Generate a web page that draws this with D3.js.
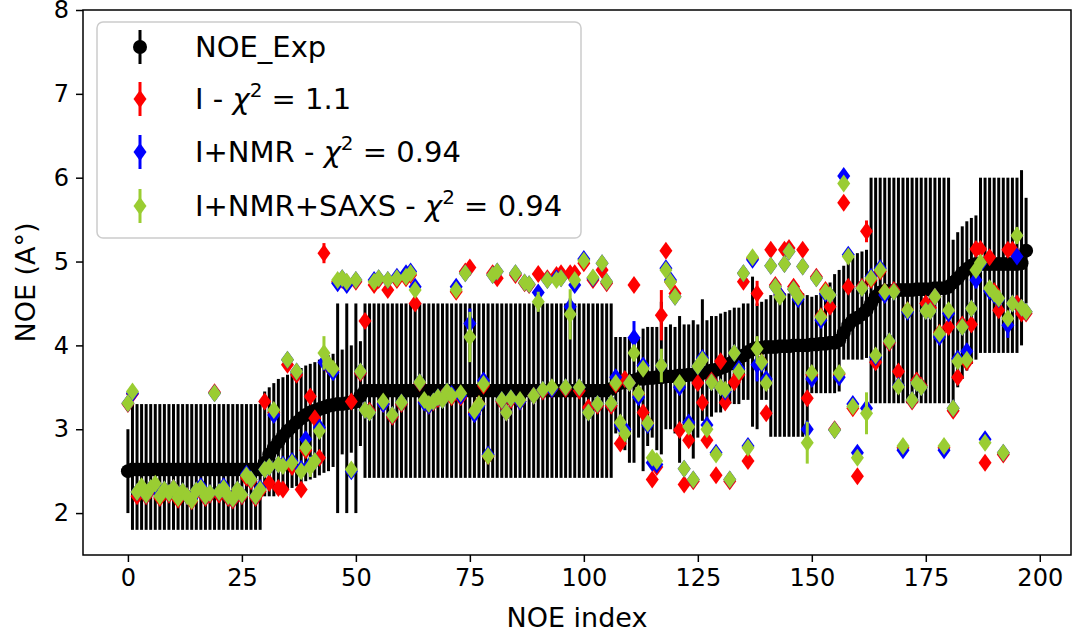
<!DOCTYPE html>
<html>
<head>
<meta charset="utf-8">
<script src="https://cdn.jsdelivr.net/npm/d3@7"></script>
<style>
  body { margin: 0; background: #fff; }
  text { font-family: "DejaVu Sans", sans-serif; }
</style>
</head>
<body>
<div id="chart"></div>
<script>
// experimental NOE distances, with lower / upper bound of the error bar
const noeExp = [
  2.50, 2.52, 2.52, 2.52, 2.52, 2.52, 2.52, 2.52, 2.52, 2.52,
  2.52, 2.52, 2.52, 2.52, 2.52, 2.52, 2.52, 2.52, 2.52, 2.52,
  2.52, 2.52, 2.52, 2.52, 2.52, 2.52, 2.52, 2.52, 2.52, 2.52,
  2.60, 2.70, 2.78, 2.85, 2.92, 2.98, 3.03, 3.08, 3.13, 3.17,
  3.20, 3.22, 3.24, 3.26, 3.28, 3.29, 3.30, 3.30, 3.31, 3.32,
  3.33, 3.40, 3.46, 3.46, 3.46, 3.46, 3.46, 3.46, 3.46, 3.46,
  3.46, 3.46, 3.46, 3.46, 3.46, 3.46, 3.46, 3.46, 3.46, 3.46,
  3.46, 3.46, 3.46, 3.46, 3.46, 3.46, 3.46, 3.46, 3.46, 3.46,
  3.46, 3.46, 3.46, 3.46, 3.46, 3.46, 3.46, 3.46, 3.46, 3.46,
  3.46, 3.46, 3.46, 3.46, 3.46, 3.46, 3.46, 3.46, 3.46, 3.46,
  3.46, 3.46, 3.46, 3.46, 3.46, 3.46, 3.48, 3.52, 3.55, 3.56,
  3.57, 3.58, 3.60, 3.60, 3.61, 3.61, 3.62, 3.62, 3.63, 3.63,
  3.63, 3.64, 3.64, 3.65, 3.65, 3.66, 3.67, 3.68, 3.70, 3.71,
  3.73, 3.75, 3.78, 3.82, 3.86, 3.88, 3.92, 3.95, 3.97, 3.97,
  3.98, 3.98, 3.98, 3.99, 3.99, 3.99, 4.00, 4.00, 4.00, 4.00,
  4.01, 4.01, 4.02, 4.02, 4.03, 4.03, 4.06, 4.15, 4.24, 4.30,
  4.33, 4.37, 4.42, 4.50, 4.58, 4.63, 4.65, 4.65, 4.65, 4.66,
  4.66, 4.66, 4.66, 4.67, 4.67, 4.67, 4.67, 4.68, 4.68, 4.68,
  4.70, 4.75, 4.80, 4.86, 4.91, 4.95, 4.97, 4.97, 4.97, 4.97,
  4.97, 4.97, 4.97, 4.97, 4.97, 4.97, 4.98, 5.13
];
const noeLow = [
  2.00, 1.80, 1.80, 1.80, 1.80, 1.80, 1.80, 1.80, 1.80, 1.80,
  1.80, 1.80, 1.80, 1.80, 1.80, 1.80, 1.80, 1.80, 1.80, 1.80,
  1.80, 1.80, 1.80, 1.80, 1.80, 1.80, 1.80, 1.80, 1.80, 1.80,
  2.20, 2.20, 2.20, 2.22, 2.25, 2.28, 2.30, 2.32, 2.35, 2.38,
  2.40, 2.42, 2.45, 2.48, 2.50, 2.55, 2.00, 2.70, 2.00, 2.72,
  2.00, 2.80, 2.42, 2.42, 2.42, 2.42, 2.42, 2.42, 2.42, 2.42,
  2.42, 2.42, 2.42, 2.42, 2.42, 2.42, 2.42, 2.42, 2.42, 2.42,
  2.42, 2.42, 2.42, 2.42, 2.42, 2.42, 2.42, 2.42, 2.42, 2.42,
  2.42, 2.42, 2.42, 2.42, 2.42, 2.42, 2.42, 2.42, 2.42, 2.42,
  2.42, 2.42, 2.42, 2.42, 2.42, 2.42, 2.42, 2.42, 2.42, 2.42,
  2.42, 2.42, 2.42, 2.42, 2.42, 2.42, 2.42, 2.95, 2.90, 2.75,
  2.60, 2.60, 2.90, 2.50, 2.80, 2.90, 2.75, 2.70, 3.00, 3.00,
  2.95, 2.60, 3.05, 3.10, 2.65, 2.90, 3.10, 3.00, 3.15, 3.20,
  3.20, 3.25, 3.30, 3.30, 3.30, 3.35, 3.35, 3.03, 3.00, 3.35,
  3.35, 2.91, 2.91, 2.91, 2.91, 2.91, 2.91, 2.91, 2.91, 2.91,
  3.43, 3.43, 3.43, 3.43, 3.43, 3.43, 3.45, 3.83, 3.83, 3.83,
  3.83, 3.83, 3.85, 3.31, 3.31, 3.31, 3.31, 3.31, 3.31, 3.31,
  3.31, 3.31, 3.31, 3.31, 3.31, 3.31, 3.31, 3.31, 3.31, 3.31,
  3.31, 3.31, 3.50, 3.60, 3.70, 3.78, 3.83, 3.91, 3.91, 3.91,
  3.91, 3.91, 3.91, 3.91, 3.91, 3.91, 4.00, 4.50
];
const noeHigh = [
  3.00, 3.30, 3.30, 3.30, 3.30, 3.30, 3.30, 3.30, 3.30, 3.30,
  3.30, 3.30, 3.30, 3.30, 3.30, 3.30, 3.30, 3.30, 3.30, 3.30,
  3.30, 3.30, 3.30, 3.30, 3.30, 3.30, 3.30, 3.30, 3.30, 3.30,
  3.45, 3.50, 3.55, 3.60, 3.62, 3.65, 3.68, 3.70, 3.73, 3.76,
  3.78, 3.80, 3.83, 3.86, 3.88, 3.90, 4.50, 3.95, 4.50, 4.00,
  4.50, 4.05, 4.50, 4.50, 4.50, 4.50, 4.50, 4.50, 4.50, 4.50,
  4.50, 4.50, 4.50, 4.50, 4.50, 4.50, 4.50, 4.50, 4.50, 4.50,
  4.50, 4.50, 4.50, 4.50, 4.50, 4.50, 4.50, 4.50, 4.50, 4.50,
  4.50, 4.50, 4.50, 4.50, 4.50, 4.50, 4.50, 4.50, 4.50, 4.50,
  4.50, 4.50, 4.50, 4.50, 4.50, 4.50, 4.50, 4.50, 4.50, 4.50,
  4.50, 4.50, 4.50, 4.50, 4.50, 4.50, 4.50, 4.10, 4.10, 4.10,
  4.10, 4.12, 4.10, 4.20, 4.22, 4.22, 4.22, 4.52, 4.22, 4.25,
  4.22, 4.35, 4.25, 4.25, 4.30, 4.25, 4.55, 4.30, 4.35, 4.35,
  4.38, 4.40, 4.42, 4.45, 4.45, 4.50, 4.50, 4.82, 4.50, 4.52,
  4.55, 4.60, 4.62, 4.62, 4.62, 4.62, 4.62, 4.62, 4.62, 4.60,
  4.58, 4.60, 4.62, 4.66, 4.75, 4.85, 4.90, 4.95, 5.00, 5.05,
  5.10, 5.12, 5.14, 6.00, 6.00, 6.00, 6.00, 6.00, 6.00, 6.00,
  6.00, 6.00, 6.00, 6.00, 6.00, 6.00, 6.00, 6.00, 6.00, 6.00,
  6.00, 5.26, 5.35, 5.42, 5.48, 5.52, 5.55, 6.00, 6.00, 6.00,
  6.00, 6.00, 6.00, 6.00, 6.00, 6.00, 6.09, 5.76
];

// back-calculated distances for the three ensembles
const fitI = [
  3.30, 3.42, 2.20, 2.28, 2.20, 2.28, 2.30, 2.18, 2.25, 2.22,
  2.30, 2.16, 2.24, 2.20, 2.14, 2.25, 2.28, 2.18, 2.22, 3.44,
  2.22, 2.28, 2.18, 2.15, 2.25, 2.20, 2.42, 2.38, 2.18, 2.26,
  3.33, 2.36, 3.20, 2.30, 2.28, 3.77, 2.55, 3.65, 2.28, 2.75,
  3.39, 3.13, 2.66, 5.10, 3.75, 3.70, 4.76, 4.78, 4.75, 3.33,
  4.76, 3.67, 4.29, 3.22, 4.72, 4.78, 3.30, 4.66, 3.15, 4.78,
  3.30, 4.80, 4.84, 4.50, 3.55, 3.33, 3.28, 3.32, 3.36, 3.38,
  3.43, 3.38, 4.64, 3.38, 4.88, 4.93, 3.20, 3.30, 3.52, 2.68,
  4.86, 4.80, 3.33, 3.20, 3.35, 4.84, 3.33, 4.74, 4.72, 3.40,
  4.85, 3.45, 4.80, 3.48, 4.84, 4.86, 3.48, 4.86, 4.86, 3.46,
  4.98, 3.26, 4.78, 3.28, 4.90, 4.74, 3.28, 3.53, 2.83, 3.60,
  3.55, 4.72, 3.42, 3.20, 3.07, 2.40, 2.55, 4.36, 5.13, 4.76,
  4.62, 2.99, 2.34, 2.87, 2.38, 3.55, 3.32, 2.87, 3.58, 2.45,
  3.81, 3.32, 2.38, 3.56, 3.65, 4.76, 2.62, 5.04, 4.62, 3.80,
  3.19, 5.14, 4.72, 4.60, 5.14, 5.16, 4.70, 4.60, 5.14, 3.37,
  3.65, 4.82, 4.35, 4.66, 4.46, 3.00, 3.66, 5.70, 4.70, 3.25,
  2.44, 4.70, 5.36, 4.78, 3.80, 4.88, 4.64, 4.03, 4.66, 3.69,
  2.78, 4.42, 3.33, 3.58, 3.52, 4.50, 4.45, 4.58, 4.15, 2.78,
  4.22, 3.22, 3.62, 4.25, 3.80, 4.25, 5.15, 5.15, 2.60, 5.05,
  4.65, 4.42, 2.70, 5.14, 5.14, 4.50, 4.38, 4.38
];
const fitNMR = [
  3.31, 3.43, 2.25, 2.30, 2.22, 2.30, 2.33, 2.22, 2.28, 2.24,
  2.30, 2.20, 2.26, 2.20, 2.17, 2.27, 2.32, 2.20, 2.24, 3.43,
  2.25, 2.32, 2.20, 2.17, 2.28, 2.22, 2.47, 2.40, 2.20, 2.30,
  2.52, 2.55, 3.17, 2.58, 2.58, 3.83, 2.62, 3.69, 2.53, 2.88,
  2.58, 2.62, 3.02, 3.80, 3.76, 3.68, 4.74, 4.80, 4.72, 2.50,
  4.78, 3.69, 3.23, 3.20, 4.78, 4.80, 3.30, 4.78, 3.17, 4.82,
  3.32, 4.86, 4.88, 4.70, 3.56, 3.32, 3.28, 3.33, 3.38, 3.35,
  3.45, 3.42, 4.70, 3.40, 4.86, 4.26, 3.18, 3.28, 3.58, 2.70,
  4.84, 4.88, 3.35, 3.20, 3.37, 4.86, 3.33, 4.75, 4.73, 3.40,
  4.63, 3.47, 4.78, 3.48, 4.80, 4.80, 3.50, 4.46, 4.72, 3.50,
  5.03, 3.20, 4.80, 3.30, 4.98, 4.76, 3.31, 3.62, 3.05, 3.00,
  3.55, 4.09, 3.38, 3.76, 3.05, 2.60, 2.58, 3.76, 4.92, 4.78,
  4.58, 3.50, 2.53, 3.08, 2.40, 3.75, 3.85, 3.05, 3.56, 2.72,
  3.50, 3.45, 2.40, 3.91, 3.72, 4.86, 2.80, 5.02, 3.77, 3.78,
  3.60, 4.95, 4.70, 4.60, 4.97, 5.12, 4.67, 4.55, 4.94, 3.00,
  3.60, 4.80, 4.30, 4.62, 4.60, 2.99, 3.62, 6.02, 5.08, 3.30,
  2.72, 4.68, 3.25, 4.82, 3.86, 4.92, 4.60, 4.05, 4.64, 3.52,
  2.75, 4.40, 3.35, 3.55, 3.50, 4.41, 4.41, 4.58, 4.10, 2.75,
  4.38, 3.25, 3.84, 4.22, 3.93, 4.44, 4.78, 4.97, 2.88, 4.65,
  4.60, 4.55, 2.72, 4.24, 4.50, 5.06, 4.45, 4.40
];
const fitSAXS = [
  3.31, 3.45, 2.25, 2.32, 2.22, 2.30, 2.35, 2.20, 2.28, 2.24,
  2.30, 2.18, 2.26, 2.20, 2.15, 2.27, 2.30, 2.20, 2.24, 3.43,
  2.25, 2.30, 2.20, 2.17, 2.28, 2.22, 2.45, 2.40, 2.20, 2.28,
  2.52, 2.55, 3.23, 2.58, 2.56, 3.83, 2.60, 3.69, 2.50, 2.78,
  2.55, 2.62, 2.98, 3.91, 3.78, 3.72, 4.78, 4.80, 4.76, 2.52,
  4.78, 3.69, 3.23, 3.20, 4.76, 4.80, 3.33, 4.78, 3.17, 4.80,
  3.32, 4.82, 4.86, 4.66, 3.56, 3.35, 3.30, 3.33, 3.38, 3.35,
  3.45, 3.40, 4.66, 3.43, 4.86, 4.10, 3.22, 3.30, 3.54, 2.68,
  4.84, 4.88, 3.35, 3.20, 3.37, 4.86, 3.35, 4.75, 4.73, 3.40,
  4.52, 3.47, 4.78, 3.50, 4.78, 4.80, 3.50, 4.37, 4.78, 3.50,
  5.01, 3.20, 4.81, 3.30, 4.98, 4.76, 3.31, 3.55, 3.08, 2.95,
  3.55, 3.91, 3.43, 3.72, 3.07, 2.66, 2.62, 3.76, 4.90, 4.76,
  4.58, 3.55, 2.53, 3.03, 2.40, 3.75, 3.83, 3.00, 3.56, 2.70,
  3.50, 3.47, 2.40, 3.91, 3.69, 4.86, 2.78, 5.05, 3.96, 3.80,
  3.55, 4.95, 4.70, 4.58, 4.97, 5.12, 4.67, 4.58, 4.94, 2.84,
  3.67, 4.80, 4.34, 4.64, 4.60, 2.99, 3.67, 5.93, 5.06, 3.27,
  2.66, 4.68, 3.19, 4.80, 3.88, 4.90, 4.64, 4.05, 4.64, 3.51,
  2.80, 4.42, 3.35, 3.55, 3.50, 4.41, 4.41, 4.58, 4.14, 2.80,
  4.42, 3.25, 3.81, 4.22, 3.83, 4.44, 4.90, 4.99, 2.84, 4.68,
  4.62, 4.56, 2.72, 4.32, 4.50, 5.31, 4.45, 4.40
];

// the few ensemble points with a visible error bar: [index, error]
const errI = [[43, 0.12], [111, 0.06], [117, 0.3], [138, 0.15], [162, 0.13]];
const errNMR = [[75, 0.18], [90, 0.05], [97, 0.1], [111, 0.2], [138, 0.2], [149, 0.1], [184, 0.08], [186, 0.1], [193, 0.15]];
const errSAXS = [[40, 0.12], [43, 0.2], [75, 0.3], [90, 0.12], [97, 0.3], [111, 0.1], [117, 0.2], [138, 0.15], [149, 0.25], [162, 0.25], [195, 0.1]];

const xTicks = [0, 25, 50, 75, 100, 125, 150, 175, 200];
const yTicks = [2, 3, 4, 5, 6, 7, 8];
const seriesNames = ["NOE_Exp", "I", "I+NMR", "I+NMR+SAXS"];
const chiValues = [null, "1.1", "0.94", "0.94"];
const seriesColors = ["#000000", "#ff0000", "#0000ff", "#9acd32"];

// figure size and plot box
let w = 1079, h = 639;
let margin = {left: 83, right: 8, top: 10, bottom: 84};
let n = noeExp.length;

let x = d3.scaleLinear()
    .domain([-0.05 * (n - 1), 1.05 * (n - 1)])
    .range([margin.left, w - margin.right]);
let y = d3.scaleLinear()
    .domain([1.5, 8])
    .range([h - margin.bottom, margin.top]);

let svg = d3.select("#chart").append("svg")
    .attr("width", w)
    .attr("height", h);

let plot = svg.append("g");

// thin diamond marker like matplotlib 'd'
let diamond = "M0,-9L6.5,0L0,9L-6.5,0Z";

// experimental error bars + points
let idx = d3.range(n);
plot.append("g").selectAll("line")
    .data(idx)
    .join("line")
    .attr("x1", i => x(i)).attr("x2", i => x(i))
    .attr("y1", i => y(noeLow[i])).attr("y2", i => y(noeHigh[i]))
    .attr("stroke", "#000")
    .attr("stroke-width", 3);
plot.append("g").selectAll("circle")
    .data(idx)
    .join("circle")
    .attr("cx", i => x(i))
    .attr("cy", i => y(noeExp[i]))
    .attr("r", 7)
    .attr("fill", "#000");

// ensembles, drawn in the same order as the legend
let fits = [fitI, fitNMR, fitSAXS];
let errs = [errI, errNMR, errSAXS];
fits.forEach((vals, k) => {
    let color = seriesColors[k + 1];
    let g = plot.append("g");
    g.selectAll("line")
        .data(errs[k])
        .join("line")
        .attr("x1", d => x(d[0])).attr("x2", d => x(d[0]))
        .attr("y1", d => y(vals[d[0]] - d[1]))
        .attr("y2", d => y(vals[d[0]] + d[1]))
        .attr("stroke", color)
        .attr("stroke-width", 3);
    g.selectAll("path")
        .data(idx)
        .join("path")
        .attr("d", diamond)
        .attr("transform", i => `translate(${x(i)},${y(vals[i])})`)
        .attr("fill", color);
});

// axes
let xAxis = d3.axisBottom(x).tickValues(xTicks).tickSize(7).tickPadding(7);
let yAxis = d3.axisLeft(y).tickValues(yTicks).tickFormat(d3.format("d")).tickSize(7).tickPadding(7);

let gx = svg.append("g")
    .attr("transform", `translate(0, ${h - margin.bottom})`)
    .call(xAxis);
let gy = svg.append("g")
    .attr("transform", `translate(${margin.left}, 0)`)
    .call(yAxis);
[gx, gy].forEach(a => {
    a.select(".domain").remove();
    a.selectAll(".tick line").attr("stroke", "#000").attr("stroke-width", 1.5);
    a.selectAll(".tick text")
        .attr("font-size", 24)
        .attr("fill", "#000")
        .style("font-family", "DejaVu Sans");
});

// frame
svg.append("rect")
    .attr("x", margin.left)
    .attr("y", margin.top)
    .attr("width", w - margin.left - margin.right)
    .attr("height", h - margin.top - margin.bottom)
    .attr("fill", "none")
    .attr("stroke", "#000")
    .attr("stroke-width", 1.5);

// axis labels
svg.append("text")
    .attr("x", (margin.left + w - margin.right) / 2)
    .attr("y", 627)
    .attr("text-anchor", "middle")
    .attr("font-size", 27)
    .text("NOE index");
svg.append("text")
    .attr("transform", `translate(35, ${(margin.top + h - margin.bottom) / 2}) rotate(-90)`)
    .attr("text-anchor", "middle")
    .attr("font-size", 27)
    .text("NOE (A°)");

// legend
let legend = svg.append("g");
legend.append("rect")
    .attr("x", 97).attr("y", 22)
    .attr("width", 484).attr("height", 216)
    .attr("rx", 6)
    .attr("fill", "#fff")
    .attr("fill-opacity", 0.8)
    .attr("stroke", "#cccccc")
    .attr("stroke-width", 1.5);

let rowY = [47, 99, 152, 206];
seriesNames.forEach((name, k) => {
    let cy = rowY[k];
    let color = seriesColors[k];
    legend.append("line")
        .attr("x1", 140).attr("x2", 140)
        .attr("y1", cy - 17).attr("y2", cy + 17)
        .attr("stroke", color)
        .attr("stroke-width", 3);
    if (k === 0) {
        legend.append("circle").attr("cx", 140).attr("cy", cy).attr("r", 7).attr("fill", color);
    } else {
        legend.append("path").attr("d", diamond)
            .attr("transform", `translate(140,${cy})`)
            .attr("fill", color);
    }
    let t = legend.append("text")
        .attr("x", 195)
        .attr("y", cy + 10)
        .attr("font-size", 29);
    if (chiValues[k] === null) {
        t.text(name);
    } else {
        t.append("tspan").text(name + " - ");
        t.append("tspan").attr("font-style", "italic").text("χ");
        t.append("tspan").attr("font-size", 20).attr("dy", -12).text("2");
        t.append("tspan").attr("dy", 12).text(" = " + chiValues[k]);
    }
});
</script>
</body>
</html>
